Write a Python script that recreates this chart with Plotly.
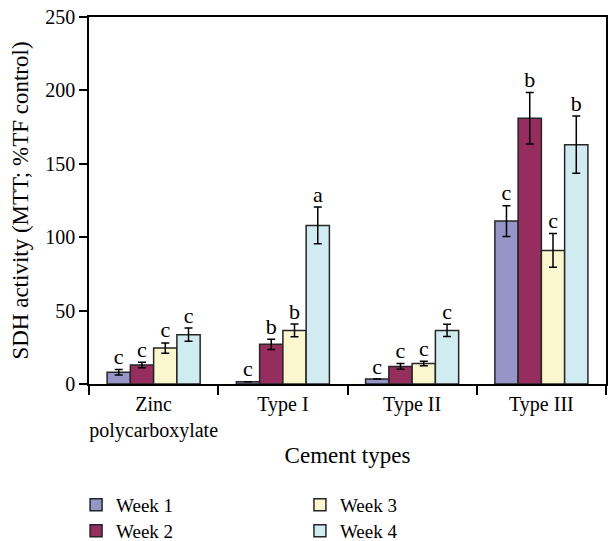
import plotly.graph_objects as go

categories = ["Zinc<br>polycarboxylate", "Type I", "Type II", "Type III"]
weeks = ["Week 1", "Week 2", "Week 3", "Week 4"]
colors = ["#9595C8", "#952D5F", "#FAF7CE", "#D1ECF0"]

week1 = [8, 1.5, 3.4, 111]
week2 = [13, 27, 12, 181]
week3 = [24.5, 36.5, 14, 91]
week4 = [33.6, 108, 36.5, 163]
values = [week1, week2, week3, week4]

err1 = [1.8, 0, 0, 10.5]
err2 = [1.9, 3.5, 2, 17.5]
err3 = [3.5, 4.3, 1.5, 11.5]
err4 = [4.5, 12.5, 4.2, 19.5]
errors = [err1, err2, err3, err4]

let1 = ["c", "c", "c", "c"]
let2 = ["c", "b", "c", "b"]
let3 = ["c", "b", "c", "c"]
let4 = ["c", "a", "c", "b"]
letters = [let1, let2, let3, let4]

FONT = "Liberation Serif"
FS = 20
bar_w = 0.18
xs = list(range(len(categories)))
legend_ids = ["legend", "legend2", "legend3", "legend4"]

fig = go.Figure()
for i, wk in enumerate(weeks):
    off = -2 * bar_w + i * bar_w
    fig.add_trace(go.Bar(
        x=xs, y=values[i], name=wk,
        width=bar_w, offset=off,
        marker=dict(color=colors[i], line=dict(color="#262626", width=1.5)),
        error_y=dict(type="data", array=errors[i], visible=True,
                     color="black", thickness=1.5, width=4),
        legend=legend_ids[i],
    ))
for i, wk in enumerate(weeks):
    off = -2 * bar_w + i * bar_w
    fig.add_trace(go.Scatter(
        x=[x + off + bar_w / 2 for x in xs],
        y=[v + e for v, e in zip(values[i], errors[i])],
        text=letters[i], mode="text", textposition="top center",
        textfont=dict(family=FONT, size=22, color="black"),
        showlegend=False, hoverinfo="skip", cliponaxis=False,
    ))

def leg(x, y):
    return dict(x=x, y=y, xanchor="left", yanchor="middle", yref="container",
                bgcolor="rgba(0,0,0,0)",
                font=dict(family=FONT, size=19, color="black"), tracegroupgap=0)

fig.update_layout(
    width=610, height=541,
    margin=dict(l=89, r=2, t=17, b=157),
    paper_bgcolor="white", plot_bgcolor="white",
    font=dict(family=FONT, size=19, color="black"),
    showlegend=True,
    xaxis=dict(
        range=[-0.5, 3.5], tickvals=xs, ticktext=categories,
        ticks="", showline=True, linecolor="black", linewidth=1.5,
        mirror=True, showgrid=False, zeroline=False,
        minor=dict(tickvals=[-0.5, 0.5, 1.5, 2.5, 3.5], ticks="outside",
                   ticklen=9, tickwidth=1.5, tickcolor="black", showgrid=False),
        title=dict(text="Cement types", standoff=6),
        ticklabelstandoff=1,
        tickfont=dict(family=FONT, size=FS, color="black"),
    ),
    yaxis=dict(
        range=[0, 250], dtick=50, ticks="outside", ticklen=8, tickwidth=1.5,
        tickcolor="black", showline=True, linecolor="black", linewidth=1.5,
        mirror=True, showgrid=False, zeroline=False,
        tickfont=dict(family=FONT, size=FS, color="black"),
        title=dict(text="SDH activity (MTT; %TF control)", standoff=10),
    ),
    legend=leg(-0.025, 1 - 505 / 541),
    legend2=leg(-0.025, 1 - 531 / 541),
    legend3=leg(0.408, 1 - 505 / 541),
    legend4=leg(0.408, 1 - 531 / 541),
)

fig.write_html("out.html")
